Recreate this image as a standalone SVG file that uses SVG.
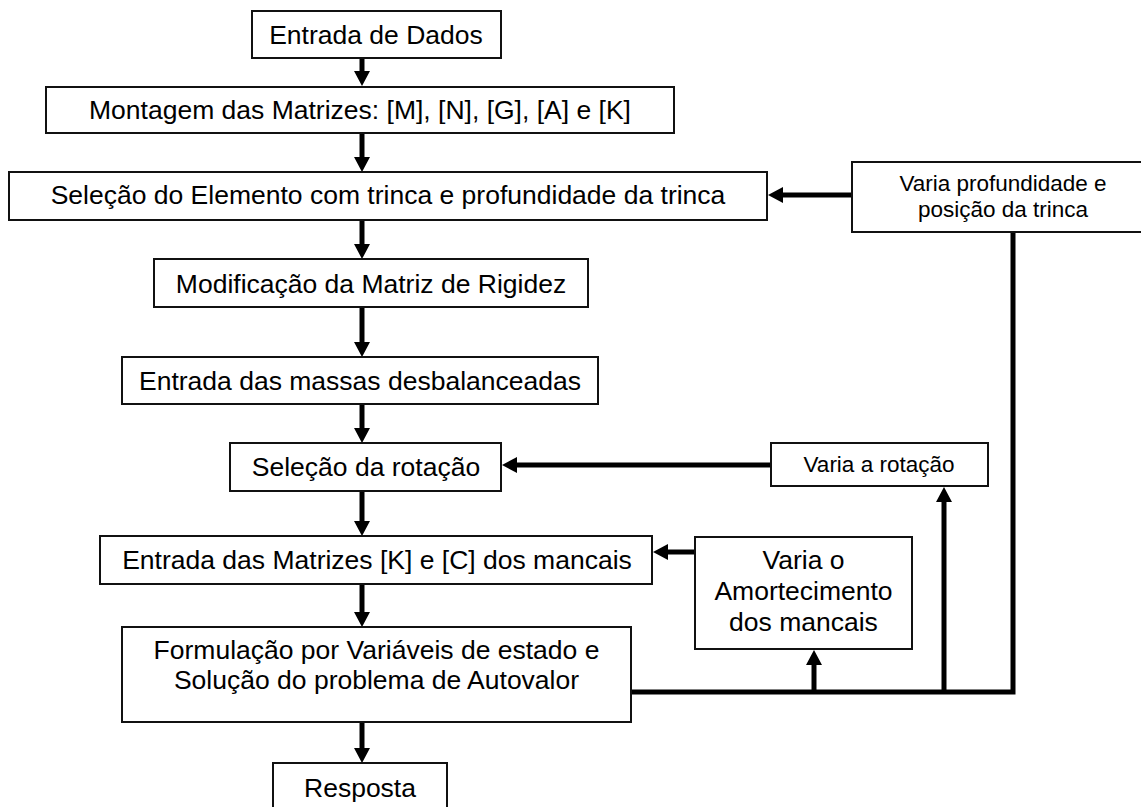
<svg xmlns="http://www.w3.org/2000/svg" width="1141" height="807" viewBox="0 0 1141 807">
<style>
.box{fill:#fff;stroke:#111;stroke-width:2}
.t{font-family:"Liberation Sans",Arial,sans-serif;font-size:26.5px;fill:#000;text-anchor:middle}
.s{font-size:22.5px}
.c{stroke:#000;stroke-width:5;fill:none}
</style>
<defs>
<marker id="ah" markerUnits="userSpaceOnUse" markerWidth="16" markerHeight="16" refX="0" refY="8" orient="auto" overflow="visible">
<path d="M0,0 L15,8 L0,16 z" fill="#000"/>
</marker>
</defs>
<rect width="1141" height="807" fill="#fff"/>
<g id="connectors">
<line class="c" x1="362" y1="58" x2="362" y2="71" marker-end="url(#ah)"/>
<line class="c" x1="362" y1="133" x2="362" y2="157" marker-end="url(#ah)"/>
<line class="c" x1="362" y1="220" x2="362" y2="244" marker-end="url(#ah)"/>
<line class="c" x1="362" y1="307" x2="362" y2="342" marker-end="url(#ah)"/>
<line class="c" x1="362" y1="404" x2="362" y2="428" marker-end="url(#ah)"/>
<line class="c" x1="362" y1="491" x2="362" y2="521" marker-end="url(#ah)"/>
<line class="c" x1="362" y1="584" x2="362" y2="612" marker-end="url(#ah)"/>
<line class="c" x1="362" y1="722" x2="362" y2="748" marker-end="url(#ah)"/>
<line class="c" x1="852" y1="195" x2="783" y2="195" marker-end="url(#ah)"/>
<line class="c" x1="771" y1="465" x2="517" y2="465" marker-end="url(#ah)"/>
<line class="c" x1="695" y1="552" x2="668" y2="552" marker-end="url(#ah)"/>
<polyline class="c" points="631,692 1013,692 1013,232"/>
<line class="c" x1="944" y1="692" x2="944" y2="502" marker-end="url(#ah)"/>
<line class="c" x1="814" y1="692" x2="814" y2="665" marker-end="url(#ah)"/>
</g>
<g id="n1"><rect class="box" x="252" y="11" width="249" height="47"/><text class="t" x="376" y="44">Entrada de Dados</text></g>
<g id="n2"><rect class="box" x="46" y="87" width="628" height="46"/><text class="t" x="360" y="119">Montagem das Matrizes: [M], [N], [G], [A] e [K]</text></g>
<g id="n3"><rect class="box" x="9" y="172" width="758" height="48"/><text class="t" x="388" y="204">Seleção do Elemento com trinca e profundidade da trinca</text></g>
<g id="n4"><rect class="box" x="852" y="162" width="300" height="70"/><text class="t s" x="1003" y="191">Varia profundidade e</text><text class="t s" x="1003" y="217">posição da trinca</text></g>
<g id="n5"><rect class="box" x="154" y="259" width="434" height="48"/><text class="t" x="371" y="293">Modificação da Matriz de Rigidez</text></g>
<g id="n6"><rect class="box" x="122" y="357" width="476" height="47"/><text class="t" x="360" y="390">Entrada das massas desbalanceadas</text></g>
<g id="n7"><rect class="box" x="230" y="443" width="271" height="48"/><text class="t" x="366" y="476">Seleção da rotação</text></g>
<g id="n8"><rect class="box" x="771" y="443" width="217" height="43"/><text class="t s" x="879" y="472">Varia a rotação</text></g>
<g id="n9"><rect class="box" x="100" y="536" width="552" height="48"/><text class="t" x="377" y="569">Entrada das Matrizes [K] e [C] dos mancais</text></g>
<g id="n10"><rect class="box" x="695" y="537" width="217" height="112"/><text class="t" x="803.5" y="569">Varia o</text><text class="t" x="803.5" y="600">Amortecimento</text><text class="t" x="803.5" y="631">dos mancais</text></g>
<g id="n11"><rect class="box" x="122" y="627" width="509" height="95"/><text class="t" x="376.5" y="659">Formulação por Variáveis de estado e</text><text class="t" x="376.5" y="689">Solução do problema de Autovalor</text></g>
<g id="n12"><rect class="box" x="273" y="763" width="174" height="60"/><text class="t" x="360" y="797">Resposta</text></g>
</svg>
